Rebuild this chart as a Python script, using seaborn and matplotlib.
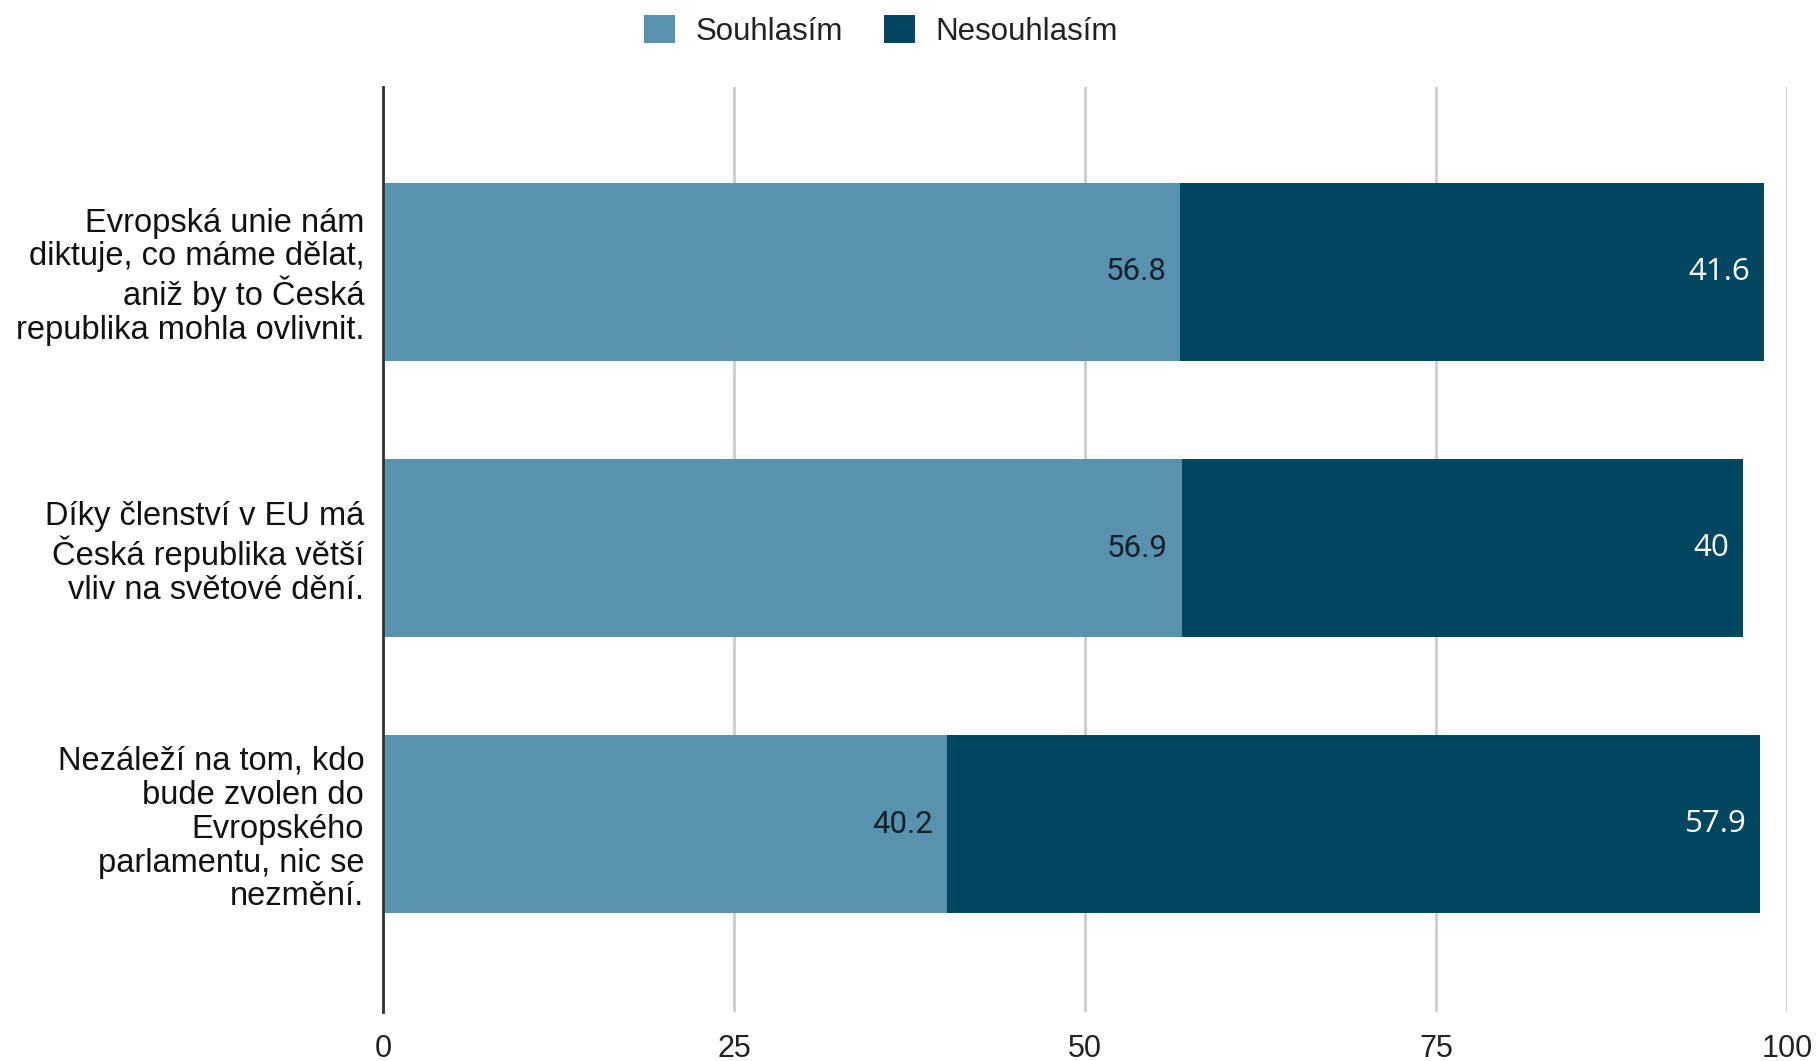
import pandas as pd
import seaborn as sns
import matplotlib.pyplot as plt

# Data
statements = [
    "Evropská unie nám\ndiktuje, co máme dělat,\naniž by to Česká\nrepublika mohla ovlivnit.",
    "Díky členství v EU má\nČeská republika větší\nvliv na světové dění.",
    "Nezáleží na tom, kdo\nbude zvolen do\nEvropského\nparlamentu, nic se\nnezmění.",
]
agree = [56.8, 56.9, 40.2]
disagree = [41.6, 40.0, 57.9]
series_names = ["Souhlasím", "Nesouhlasím"]
x_ticks = [0, 25, 50, 75, 100]

light = "#5892AE"
dark = "#014660"

df = pd.DataFrame({"statement": statements, "agree": agree, "disagree": disagree})
df["total"] = df["agree"] + df["disagree"]

sns.set_style("white")
plt.rcParams["font.family"] = ["Liberation Sans", "DejaVu Sans"]

fig = plt.figure(figsize=(18.16, 10.61), dpi=100)
ax = fig.add_axes([0.2109, 0.0462, 0.773, 0.8718])

# Stacked bars: draw total (dark) first, then the light part on top
sns.barplot(data=df, y="statement", x="total", color=dark, orient="h",
            width=0.646, ax=ax, saturation=1, linewidth=0, label=series_names[1])
sns.barplot(data=df, y="statement", x="agree", color=light, orient="h",
            width=0.646, ax=ax, saturation=1, linewidth=0, label=series_names[0])

# Value labels, right-aligned inside each segment
for i, row in df.iterrows():
    ax.annotate(f"{row['agree']:g}", xy=(row["agree"], i), xytext=(-10, 0),
                textcoords="offset points", ha="right", va="center",
                fontsize=22.5, color="#15202b", family=["Roboto", "DejaVu Sans"])
    ax.annotate(f"{row['disagree']:g}", xy=(row["total"], i), xytext=(-10, 0),
                textcoords="offset points", ha="right", va="center",
                fontsize=22.5, color="white", family=["Open Sans", "DejaVu Sans"])

ax.set_xlim(0, 100)
ax.set_ylim(2.68, -0.67)
ax.set_xticks(x_ticks)
ax.set_xticklabels([str(t) for t in x_ticks])
ax.set_xlabel("")
ax.set_ylabel("")
ax.tick_params(axis="x", length=0, pad=16, labelsize=22, labelcolor="#222222")
ax.tick_params(axis="y", length=0, pad=13.5, labelsize=23.5, labelcolor="#111111")
for lbl in ax.get_yticklabels():
    lbl.set_linespacing(1.12)
    lbl.set_horizontalalignment("right")

ax.grid(axis="x", color="#cccccc", linewidth=2)
ax.set_axisbelow(True)
for side in ["top", "right", "bottom"]:
    ax.spines[side].set_visible(False)
ax.spines["left"].set_color("#333333")
ax.spines["left"].set_linewidth(2)
ax.spines["left"].set_zorder(3)

# Legend on top
handles, labels = ax.get_legend_handles_labels()
order = [labels.index(n) for n in series_names]
if ax.legend_:
    ax.legend_.remove()
fig.legend([handles[k] for k in order], [labels[k] for k in order],
           loc="upper center", bbox_to_anchor=(0.485, 1.012), ncol=2,
           frameon=False, fontsize=22.5, handlelength=1.0, handleheight=1.0,
           handletextpad=0.65, columnspacing=1.3, labelcolor="#222222")

fig.savefig("out.png", dpi=100)
